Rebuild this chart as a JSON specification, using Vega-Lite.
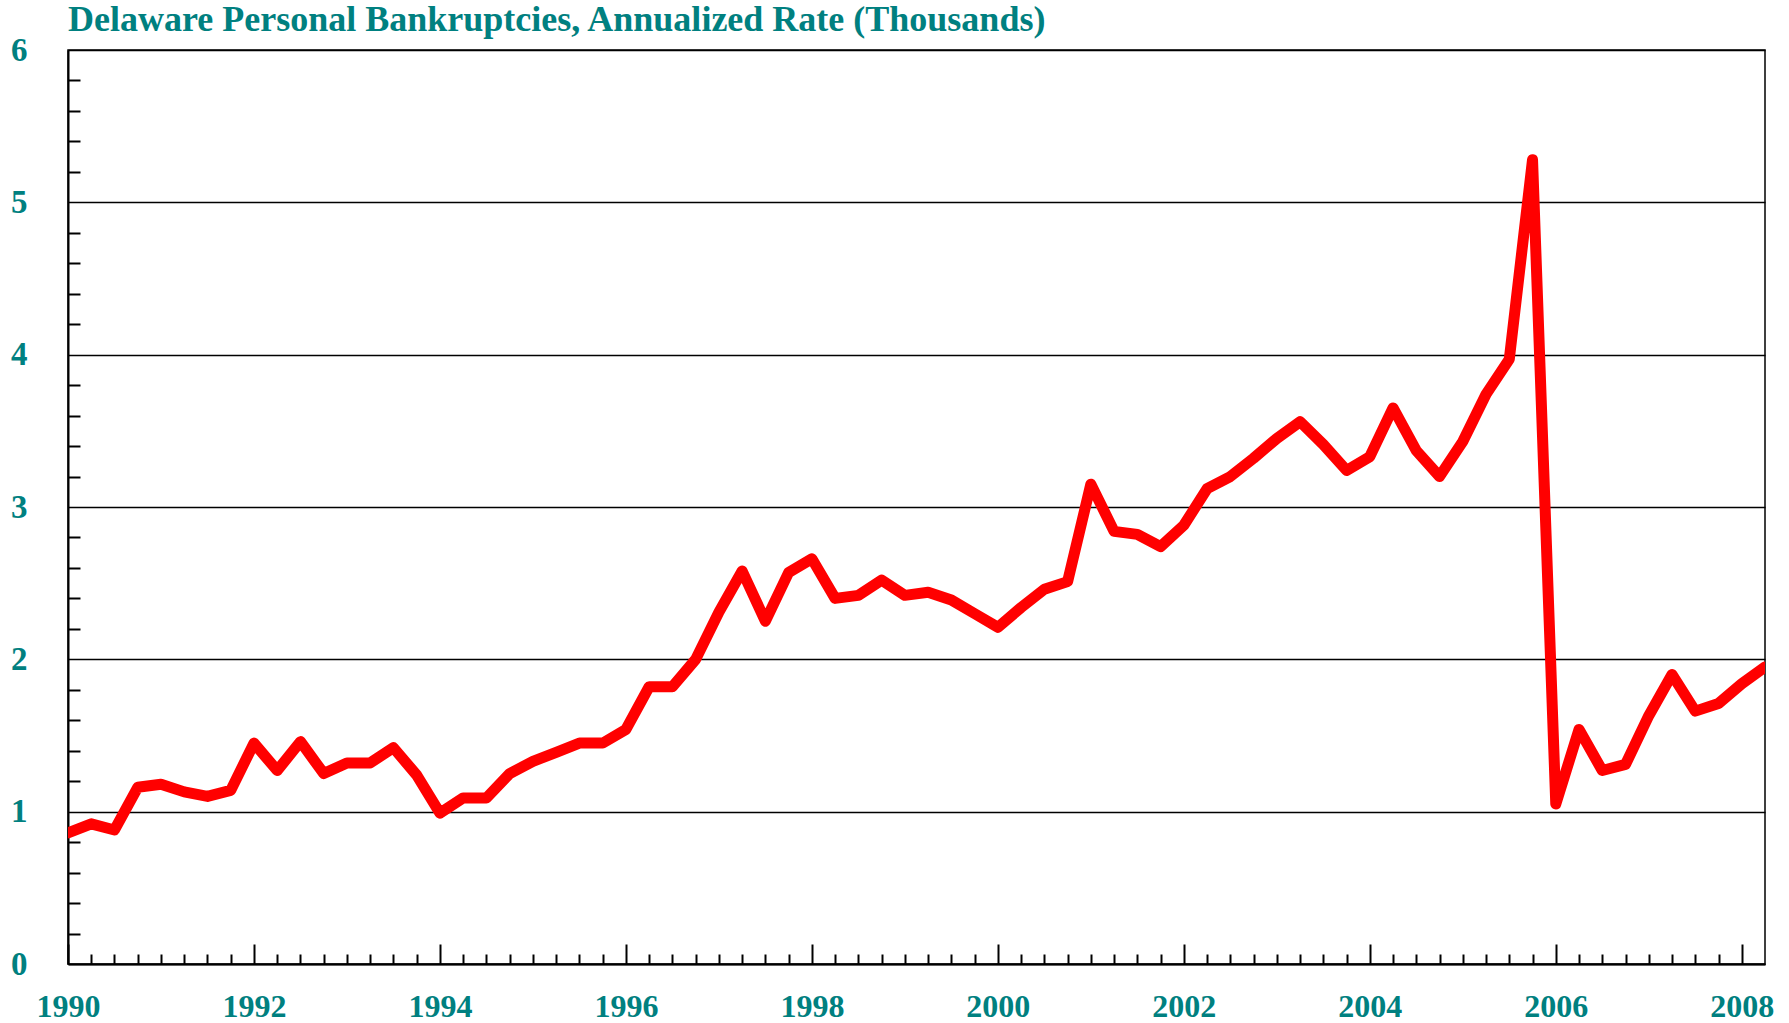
{
  "$schema": "https://vega.github.io/schema/vega-lite/v6.json",
  "width": 1697,
  "height": 914,
  "autosize": {"type": "none"},
  "padding": {"left": 68, "top": 50, "right": 24, "bottom": 59},
  "background": "white",
  "title": {
    "text": "Delaware Personal Bankruptcies, Annualized Rate (Thousands)",
    "anchor": "start",
    "frame": "group",
    "font": "Liberation Serif",
    "fontSize": 36,
    "fontWeight": "bold",
    "color": "#008080",
    "baseline": "alphabetic",
    "offset": -33
  },
  "config": {"view": {"stroke": "#000000", "strokeWidth": 1.5}},
  "data": {
    "values": [
      {"year": 1990.0, "rate": 0.86},
      {"year": 1990.25, "rate": 0.92},
      {"year": 1990.5, "rate": 0.88},
      {"year": 1990.75, "rate": 1.16},
      {"year": 1991.0, "rate": 1.18},
      {"year": 1991.25, "rate": 1.13},
      {"year": 1991.5, "rate": 1.10},
      {"year": 1991.75, "rate": 1.14},
      {"year": 1992.0, "rate": 1.45},
      {"year": 1992.25, "rate": 1.27},
      {"year": 1992.5, "rate": 1.46},
      {"year": 1992.75, "rate": 1.25},
      {"year": 1993.0, "rate": 1.32},
      {"year": 1993.25, "rate": 1.32},
      {"year": 1993.5, "rate": 1.42},
      {"year": 1993.75, "rate": 1.24},
      {"year": 1994.0, "rate": 0.99},
      {"year": 1994.25, "rate": 1.09},
      {"year": 1994.5, "rate": 1.09},
      {"year": 1994.75, "rate": 1.25},
      {"year": 1995.0, "rate": 1.33},
      {"year": 1995.25, "rate": 1.39},
      {"year": 1995.5, "rate": 1.45},
      {"year": 1995.75, "rate": 1.45},
      {"year": 1996.0, "rate": 1.54},
      {"year": 1996.25, "rate": 1.82},
      {"year": 1996.5, "rate": 1.82},
      {"year": 1996.75, "rate": 2.00},
      {"year": 1997.0, "rate": 2.31},
      {"year": 1997.25, "rate": 2.58},
      {"year": 1997.5, "rate": 2.25},
      {"year": 1997.75, "rate": 2.57},
      {"year": 1998.0, "rate": 2.66},
      {"year": 1998.25, "rate": 2.40},
      {"year": 1998.5, "rate": 2.42},
      {"year": 1998.75, "rate": 2.52},
      {"year": 1999.0, "rate": 2.42},
      {"year": 1999.25, "rate": 2.44},
      {"year": 1999.5, "rate": 2.39},
      {"year": 1999.75, "rate": 2.30},
      {"year": 2000.0, "rate": 2.21},
      {"year": 2000.25, "rate": 2.34},
      {"year": 2000.5, "rate": 2.46},
      {"year": 2000.75, "rate": 2.51},
      {"year": 2001.0, "rate": 3.15},
      {"year": 2001.25, "rate": 2.84},
      {"year": 2001.5, "rate": 2.82},
      {"year": 2001.75, "rate": 2.74},
      {"year": 2002.0, "rate": 2.88},
      {"year": 2002.25, "rate": 3.12},
      {"year": 2002.5, "rate": 3.20},
      {"year": 2002.75, "rate": 3.32},
      {"year": 2003.0, "rate": 3.45},
      {"year": 2003.25, "rate": 3.56},
      {"year": 2003.5, "rate": 3.41},
      {"year": 2003.75, "rate": 3.24},
      {"year": 2004.0, "rate": 3.33},
      {"year": 2004.25, "rate": 3.65},
      {"year": 2004.5, "rate": 3.37},
      {"year": 2004.75, "rate": 3.20},
      {"year": 2005.0, "rate": 3.43},
      {"year": 2005.25, "rate": 3.74},
      {"year": 2005.5, "rate": 3.97},
      {"year": 2005.75, "rate": 5.28},
      {"year": 2006.0, "rate": 1.05},
      {"year": 2006.25, "rate": 1.54},
      {"year": 2006.5, "rate": 1.27},
      {"year": 2006.75, "rate": 1.31},
      {"year": 2007.0, "rate": 1.63},
      {"year": 2007.25, "rate": 1.90},
      {"year": 2007.5, "rate": 1.66},
      {"year": 2007.75, "rate": 1.71},
      {"year": 2008.0, "rate": 1.84},
      {"year": 2008.25, "rate": 1.95}
    ]
  },
  "mark": {"type": "line", "color": "#ff0000", "strokeWidth": 11, "strokeJoin": "round", "strokeCap": "round", "clip": true},
  "encoding": {
    "x": {
      "field": "year",
      "type": "quantitative",
      "title": null,
      "scale": {"domain": [1990, 2008.25], "nice": false, "zero": false},
      "axis": {
        "values": [1990, 1990.25, 1990.5, 1990.75, 1991, 1991.25, 1991.5, 1991.75, 1992, 1992.25, 1992.5, 1992.75, 1993, 1993.25, 1993.5, 1993.75, 1994, 1994.25, 1994.5, 1994.75, 1995, 1995.25, 1995.5, 1995.75, 1996, 1996.25, 1996.5, 1996.75, 1997, 1997.25, 1997.5, 1997.75, 1998, 1998.25, 1998.5, 1998.75, 1999, 1999.25, 1999.5, 1999.75, 2000, 2000.25, 2000.5, 2000.75, 2001, 2001.25, 2001.5, 2001.75, 2002, 2002.25, 2002.5, 2002.75, 2003, 2003.25, 2003.5, 2003.75, 2004, 2004.25, 2004.5, 2004.75, 2005, 2005.25, 2005.5, 2005.75, 2006, 2006.25, 2006.5, 2006.75, 2007, 2007.25, 2007.5, 2007.75, 2008],
        "labelExpr": "datum.value % 2 == 0 ? format(datum.value, 'd') : ''",
        "labelOverlap": false,
        "labelFlush": false,
        "labelFont": "Liberation Serif",
        "labelFontSize": 32,
        "labelFontWeight": "bold",
        "labelColor": "#008080",
        "labelBaseline": "top",
        "labelPadding": 47,
        "grid": false,
        "domainColor": "#000000",
        "domainWidth": 2,
        "tickColor": "#000000",
        "tickWidth": 2,
        "tickSize": {"condition": {"test": "datum.value % 2 == 0", "value": -20}, "value": -10}
      }
    },
    "y": {
      "field": "rate",
      "type": "quantitative",
      "title": null,
      "scale": {"domain": [0, 6], "nice": false, "zero": true},
      "axis": {
        "values": [0, 0.2, 0.4, 0.6, 0.8, 1, 1.2, 1.4, 1.6, 1.8, 2, 2.2, 2.4, 2.6, 2.8, 3, 3.2, 3.4, 3.6, 3.8, 4, 4.2, 4.4, 4.6, 4.8, 5, 5.2, 5.4, 5.6, 5.8, 6],
        "labelExpr": "datum.value % 1 == 0 ? format(datum.value, 'd') : ''",
        "labelOverlap": false,
        "labelFlush": false,
        "labelFont": "Liberation Serif",
        "labelFontSize": 33,
        "labelFontWeight": "bold",
        "labelColor": "#008080",
        "labelAlign": "right",
        "labelBaseline": "middle",
        "labelPadding": 41,
        "grid": true,
        "gridColor": "#000000",
        "gridWidth": 1.5,
        "gridOpacity": {"condition": {"test": "datum.value % 1 == 0", "value": 1}, "value": 0},
        "domainColor": "#000000",
        "domainWidth": 2,
        "tickColor": "#000000",
        "tickWidth": 2,
        "tickSize": {"condition": {"test": "datum.value % 1 == 0", "value": 0}, "value": -12}
      }
    }
  }
}
